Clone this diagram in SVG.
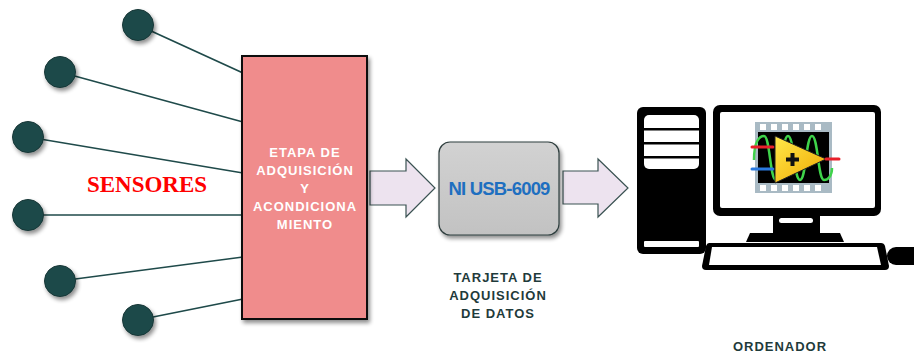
<svg xmlns="http://www.w3.org/2000/svg" width="914" height="354" viewBox="0 0 914 354">
  <defs>
    <filter id="shadow" x="-20%" y="-20%" width="150%" height="150%">
      <feGaussianBlur in="SourceAlpha" stdDeviation="2"/>
      <feOffset dx="2" dy="3" result="b"/>
      <feComponentTransfer><feFuncA type="linear" slope="0.45"/></feComponentTransfer>
      <feMerge><feMergeNode/><feMergeNode in="SourceGraphic"/></feMerge>
    </filter>
    <linearGradient id="boxGrad" x1="0" y1="0" x2="0" y2="1">
      <stop offset="0" stop-color="#d2d2d2"/>
      <stop offset="1" stop-color="#c2c2c2"/>
    </linearGradient>
    <linearGradient id="ampGrad" x1="0" y1="0" x2="1" y2="1">
      <stop offset="0" stop-color="#ffe84a"/>
      <stop offset="1" stop-color="#f0a800"/>
    </linearGradient>
    <style>
      .sensor { fill: #1f4a4a; stroke: #163636; stroke-width: 1; filter: url(#shadow); }
      .wire { stroke: #1f4a4a; stroke-width: 1.6; fill: none; }
      .fat { fill: #ede3ef; stroke: #3a5252; stroke-width: 1.2; }
      .lbl { font-family: "Liberation Sans", Arial, sans-serif; font-weight: bold; font-size: 13px; letter-spacing: 1px; text-anchor: middle; }
      .pc { fill: #000; }
      .hole { fill: #fff; }
    </style>
  </defs>

  <!-- sensor wires -->
  <g id="connectors">
    <line class="wire" x1="138" y1="25" x2="243" y2="73"/>
    <line class="wire" x1="60" y1="72" x2="243" y2="122"/>
    <line class="wire" x1="28" y1="137" x2="243" y2="173"/>
    <line class="wire" x1="28" y1="215" x2="243" y2="215"/>
    <line class="wire" x1="60" y1="281" x2="243" y2="257"/>
    <line class="wire" x1="138" y1="320" x2="243" y2="299"/>
    <!-- block arrows -->
    <polygon class="fat" points="370,171 406,171 406,159 435,188 406,217 406,205 370,205"/>
    <polygon class="fat" points="563,171 598,171 598,159 628,188 598,217 598,204 563,204"/>
  </g>

  <g id="sensors">
    <circle class="sensor" cx="138" cy="25" r="15.5"/>
    <circle class="sensor" cx="60" cy="72" r="15.5"/>
    <circle class="sensor" cx="28" cy="137" r="15.5"/>
    <circle class="sensor" cx="28" cy="215" r="15.5"/>
    <circle class="sensor" cx="60" cy="281" r="15.5"/>
    <circle class="sensor" cx="138" cy="320" r="15.5"/>
    <text x="147" y="192" font-family="'Liberation Serif', 'Times New Roman', serif" font-weight="bold" font-size="23" fill="#ff0000" text-anchor="middle">SENSORES</text>
  </g>

  <!-- signal conditioning stage -->
  <g id="acondicionamiento">
    <rect x="242" y="56" width="125" height="263" fill="#f08c8c" stroke="#111" stroke-width="2" filter="url(#shadow)"/>
    <g class="lbl" fill="#ffffff">
      <text x="305" y="157">ETAPA DE</text>
      <text x="305" y="175">ADQUISICIÓN</text>
      <text x="305" y="193">Y</text>
      <text x="305" y="211">ACONDICIONA</text>
      <text x="305" y="229">MIENTO</text>
    </g>
  </g>

  <!-- DAQ card -->
  <g id="daq">
    <rect x="439" y="142" width="120" height="93" rx="11" fill="url(#boxGrad)" stroke="#2e3e3e" stroke-width="1.2" filter="url(#shadow)"/>
    <text x="499" y="194.5" font-family="'Liberation Sans', Arial, sans-serif" font-weight="bold" font-size="18.5" letter-spacing="-0.8" fill="#1e6fc0" text-anchor="middle">NI USB-6009</text>
    <g class="lbl" fill="#1f3b3b">
      <text x="498" y="282">TARJETA DE</text>
      <text x="498" y="300">ADQUISICIÓN</text>
      <text x="498" y="318">DE DATOS</text>
    </g>
  </g>

  <!-- computer -->
  <g id="ordenador">
    <!-- tower -->
    <rect class="pc" x="637" y="107" width="69" height="147" rx="6"/>
    <rect class="hole" x="644" y="115" width="55" height="54" rx="5"/>
    <rect class="pc" x="644" y="128" width="55" height="2.5"/>
    <rect class="pc" x="644" y="142" width="55" height="2.5"/>
    <rect class="pc" x="644" y="156" width="55" height="2.5"/>
    <rect class="hole" x="644" y="241" width="55" height="6" rx="1"/>
    <!-- monitor -->
    <rect class="pc" x="713" y="105" width="168" height="111" rx="7"/>
    <rect class="hole" x="720" y="112" width="155" height="96" rx="2"/>
    <rect class="pc" x="773" y="214" width="47" height="20"/>
    <rect class="hole" x="779" y="218" width="34" height="5" rx="2.5"/>
    <path class="pc" d="M750,233 H840 L844,242 H746 Z"/>
    <!-- keyboard -->
    <path class="pc" d="M709,243 H881 Q884,243 885,246 L889,266 Q889,270 885,270 H706 Q702,270 702,266 L706,246 Q707,243 709,243 Z"/>
    <path class="hole" d="M712,247 H877 L881,265 H709 Z"/>
    <!-- mouse -->
    <rect class="pc" x="887" y="247" width="40" height="18" rx="9"/>
    <text class="lbl" x="780" y="351" fill="#1f3b3b" letter-spacing="1.5">ORDENADOR</text>

    <!-- application icon on screen -->
    <g id="labview">
      <rect x="755" y="122" width="77" height="71" fill="#a9bac4"/>
      <g class="hole">
        <rect x="760" y="124" width="6" height="6"/>
        <rect x="771" y="124" width="6" height="6"/>
        <rect x="782" y="124" width="6" height="6"/>
        <rect x="793" y="124" width="6" height="6"/>
        <rect x="804" y="124" width="6" height="6"/>
        <rect x="815" y="124" width="6" height="6"/>
        <rect x="760" y="185" width="6" height="6"/>
        <rect x="771" y="185" width="6" height="6"/>
        <rect x="782" y="185" width="6" height="6"/>
        <rect x="793" y="185" width="6" height="6"/>
        <rect x="804" y="185" width="6" height="6"/>
        <rect x="815" y="185" width="6" height="6"/>
      </g>
      <rect x="758" y="132" width="71" height="51" fill="#000"/>
      <path d="M754,160 C754,140 760,136 764,136 C770,136 770,180 776,180 C782,180 782,136 788,136 C794,136 794,180 800,180 C806,180 806,136 812,136 C818,136 818,180 824,180 C828,180 832,176 832,168" fill="none" stroke="#3fd34a" stroke-width="2.5"/>
      <line x1="752" y1="147" x2="773" y2="147" stroke="#e8202a" stroke-width="3" stroke-linecap="round"/>
      <line x1="752" y1="169" x2="773" y2="169" stroke="#2a7ae0" stroke-width="3" stroke-linecap="round"/>
      <polygon points="775,136 826,159 775,183" fill="url(#ampGrad)" stroke="#222" stroke-width="1"/>
      <line x1="826" y1="159" x2="839" y2="159" stroke="#e8202a" stroke-width="3" stroke-linecap="round"/>
      <rect x="786" y="157.5" width="13" height="4" fill="#111"/>
      <rect x="790.5" y="153" width="4" height="13" fill="#111"/>
    </g>
  </g>
</svg>
